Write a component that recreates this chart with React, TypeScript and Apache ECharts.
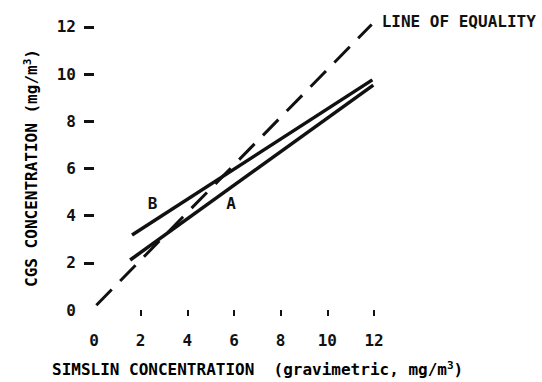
import React, { useEffect, useRef } from 'react';
import * as echarts from 'echarts';

// Axis values
const xLabelValues = [0, 2, 4, 6, 8, 10, 12];
const xTickValues = [2, 4, 6, 8, 10, 12];
const yLabelValues = [0, 2, 4, 6, 8, 10, 12];
const yTickValues = [2, 4, 6, 8, 10, 12];

// Lines (x = SIMSLIN, y = CGS)
const lineA = [[1.55, 2.12], [11.97, 9.53]];
const lineB = [[1.63, 3.18], [11.93, 9.75]];
const equality = [[0.1, 0.2], [11.9, 12.1]];

// Line identifiers
const markNames = ['B', 'A'];
const markX = [2.51, 5.87];
const markY = [4.53, 4.5];

const xTitle = 'SIMSLIN CONCENTRATION  (gravimetric, mg/m';
const yTitle = 'CGS CONCENTRATION (mg/m';
const equalityLabel = 'LINE OF EQUALITY';

const FONT = '"DejaVu Sans Mono", "Liberation Mono", monospace';
const INK = '#111';

export default function App() {
  const ref = useRef<HTMLDivElement>(null);
  useEffect(() => {
    if (!ref.current) return;
    const chart = echarts.init(ref.current, undefined, { renderer: 'svg' });
    const txt = { fontFamily: FONT, fontWeight: 'bold', fontSize: 16, color: INK };
    const rich = {
      t: { fontFamily: FONT, fontWeight: 'bold', fontSize: 16, color: INK, lineHeight: 18 },
      s: { fontFamily: FONT, fontWeight: 'bold', fontSize: 11, color: INK, verticalAlign: 'top', lineHeight: 18 },
    };
    chart.setOption({
      animation: false,
      backgroundColor: '#fff',
      grid: { left: 94, right: 168, top: 15, bottom: 72 },
      xAxis: {
        type: 'value',
        min: 0,
        max: 12,
        offset: 2,
        axisLine: { show: false },
        splitLine: { show: false },
        axisTick: {
          show: true,
          length: 6,
          customValues: xTickValues,
          lineStyle: { color: INK, width: 2 },
        },
        axisLabel: {
          customValues: xLabelValues,
          margin: 20,
          ...txt,
        },
      },
      yAxis: {
        type: 'value',
        min: 0,
        max: 12.5,
        offset: 2,
        axisLine: { show: false },
        splitLine: { show: false },
        axisTick: {
          show: true,
          length: 10,
          customValues: yTickValues,
          lineStyle: { color: INK, width: 3 },
        },
        axisLabel: {
          customValues: yLabelValues,
          margin: 16,
          ...txt,
        },
      },
      series: [
        {
          type: 'line',
          data: equality,
          symbol: 'none',
          lineStyle: { color: INK, width: 3, type: [22, 12] },
          endLabel: {
            show: true,
            formatter: equalityLabel,
            distance: 10,
            offset: [0, -3],
            ...txt,
          },
        },
        {
          type: 'line',
          data: lineA,
          symbol: 'none',
          lineStyle: { color: INK, width: 3.5 },
        },
        {
          type: 'line',
          data: lineB,
          symbol: 'none',
          lineStyle: { color: INK, width: 3.5 },
        },
        {
          type: 'scatter',
          symbolSize: 0,
          itemStyle: { opacity: 1, color: INK },
          data: markNames.map((n, i) => ({ name: n, value: [markX[i], markY[i]] })),
          label: {
            show: true,
            position: 'inside',
            formatter: (p: any) => p.name,
            opacity: 1,
            ...txt,
          },
        },
      ],
      graphic: [
        {
          type: 'text',
          x: 52,
          y: 369,
          style: {
            text: `{t|${xTitle}}{s|3}{t|)}`,
            rich,
            align: 'left',
            verticalAlign: 'middle',
          },
        },
        {
          type: 'text',
          x: 31,
          y: 168,
          rotation: Math.PI / 2,
          style: {
            text: `{t|${yTitle}}{s|3}{t|)}`,
            rich,
            align: 'center',
            verticalAlign: 'middle',
          },
        },
      ],
    });
    return () => chart.dispose();
  }, []);
  return (
    <div
      ref={ref}
      style={{ position: 'fixed', left: 0, top: 0, width: 542, height: 382 }}
    />
  );
}
